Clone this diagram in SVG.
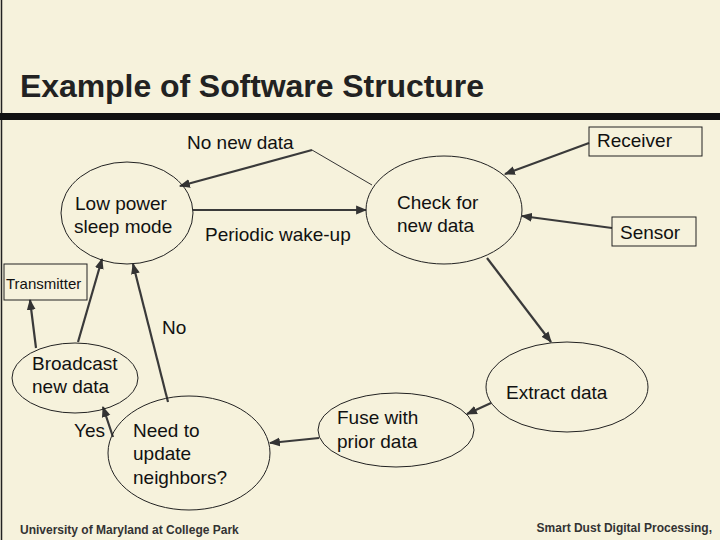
<svg xmlns="http://www.w3.org/2000/svg" width="720" height="540" viewBox="0 0 720 540">
<defs>
<marker id="ah" viewBox="0 0 10 10" refX="9" refY="5" markerWidth="5" markerHeight="5" orient="auto"><path d="M0,1 L10,5 L0,9 z" fill="#333"/></marker>
<style>
.n{fill:none;stroke:#222;stroke-width:1}
.t{font-family:"Liberation Sans",Arial,sans-serif;font-size:19px;fill:#111}
.c{stroke:#3a3a3a;stroke-width:2.2;fill:none;marker-end:url(#ah)}
</style>
</defs>
<rect width="720" height="540" fill="#f6f2dc"/>
<line x1="1.5" y1="0" x2="1.5" y2="540" stroke="#222" stroke-width="1.5"/>
<text x="20" y="97" font-family="Liberation Sans,Arial,sans-serif" font-size="32" font-weight="bold" fill="#222" textLength="464">Example of Software Structure</text>
<rect x="0" y="113" width="720" height="7" fill="#111"/>
<g id="connectors">
<polyline points="372,185 312,150" fill="none" stroke="#333" stroke-width="1"/>
<line class="c" x1="312" y1="150" x2="180" y2="186"/>
<line class="c" x1="193" y1="210" x2="366" y2="210"/>
<line class="c" x1="589" y1="143" x2="505" y2="174"/>
<line class="c" x1="612" y1="228" x2="522" y2="216"/>
<line class="c" x1="487" y1="258" x2="551" y2="342"/>
<line class="c" x1="491" y1="403" x2="467" y2="414"/>
<line class="c" x1="319" y1="438" x2="270" y2="443"/>
<line class="c" x1="168" y1="402" x2="133" y2="264"/>
<line class="c" x1="113" y1="437" x2="103" y2="407"/>
<line class="c" x1="78" y1="342" x2="102" y2="259"/>
<line class="c" x1="36" y1="348" x2="30" y2="300"/>
</g>
<g id="lowpower"><ellipse class="n" cx="127" cy="213" rx="66" ry="51"/><text class="t" x="75" y="210">Low power</text><text class="t" x="74" y="233">sleep mode</text></g>
<g id="check"><ellipse class="n" cx="444" cy="210" rx="78" ry="54"/><text class="t" x="397" y="209">Check for</text><text class="t" x="397" y="232">new data</text></g>
<g id="extract"><ellipse class="n" cx="567" cy="387" rx="81" ry="45"/><text class="t" x="506" y="399">Extract data</text></g>
<g id="fuse"><ellipse class="n" cx="396" cy="430" rx="78" ry="37"/><text class="t" x="337" y="424">Fuse with</text><text class="t" x="337" y="448">prior data</text></g>
<g id="need"><ellipse class="n" cx="189" cy="453" rx="81" ry="57"/><text class="t" x="133" y="437">Need to</text><text class="t" x="133" y="460">update</text><text class="t" x="133" y="484">neighbors?</text></g>
<g id="broadcast"><ellipse class="n" cx="75" cy="378" rx="63" ry="35"/><text class="t" x="32" y="370">Broadcast</text><text class="t" x="32" y="393">new data</text></g>
<g id="transmitter"><rect class="n" x="4" y="264" width="83" height="36"/><text x="6" y="289" font-family="Liberation Sans,Arial,sans-serif" font-size="15" fill="#111">Transmitter</text></g>
<g id="receiver"><rect class="n" x="589" y="127" width="113" height="29"/><text class="t" x="597" y="147">Receiver</text></g>
<g id="sensor"><rect class="n" x="612" y="217" width="84" height="29"/><text class="t" x="620" y="239">Sensor</text></g>
<text class="t" x="187" y="149">No new data</text>
<text class="t" x="205" y="241">Periodic wake-up</text>
<text class="t" x="162" y="334">No</text>
<text class="t" x="74" y="437">Yes</text>
<text x="20" y="534" font-family="Liberation Sans,Arial,sans-serif" font-size="12" font-weight="bold" fill="#333">University of Maryland at College Park</text>
<text x="712" y="532" text-anchor="end" font-family="Liberation Sans,Arial,sans-serif" font-size="12" font-weight="bold" fill="#333">Smart Dust Digital Processing,</text>
</svg>
